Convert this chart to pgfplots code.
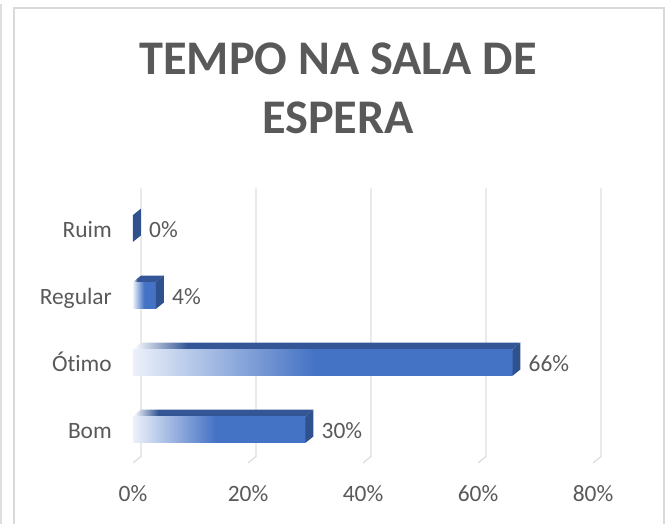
\documentclass[border=0pt]{standalone}
\usepackage{fontspec}
\setmainfont{Carlito}[Ligatures={NoCommon}]
\usepackage{pgfplots}
\pgfplotsset{compat=1.18}

\definecolor{txtgray}{RGB}{89,89,89}
\definecolor{gridgray}{RGB}{222,222,222}
\definecolor{framegray}{RGB}{217,217,217}
\definecolor{barfront}{RGB}{68,114,196}
\definecolor{bartop}{RGB}{52,86,150}
\definecolor{barside}{RGB}{47,82,143}
\definecolor{barpale}{RGB}{236,241,250}

% white -> blue over the first half of each bar, then solid
\pgfdeclarehorizontalshading{frontshade}{100bp}{color(0bp)=(barpale); color(25bp)=(barpale); color(49bp)=(barfront); color(100bp)=(barfront)}
\pgfdeclarehorizontalshading{topshade}{100bp}{color(0bp)=(white); color(25bp)=(white); color(32bp)=(bartop); color(100bp)=(bartop)}

\begin{document}
\begin{tikzpicture}
\begin{axis}[
  x=5.75bp, y=67bp,
  xmin=0, xmax=80, ymin=-0.5, ymax=3.5,
  clip=false,
  axis line style={draw=none},
  tick style={draw=none},
  xtick={0,20,40,60,80},
  xticklabels={0\%,20\%,40\%,60\%,80\%},
  ytick={0,1,2,3},
  yticklabels={Bom,Ót\kern0ptimo,Regular,Ruim},
  ticklabel style={font=\fontsize{23.5}{28}\selectfont, text=txtgray, inner sep=0pt},
  xticklabel style={anchor=base, yshift=-39bp},
  yticklabel style={anchor=base east, xshift=-21bp, yshift=-9.5bp},
]

% gridlines on the back wall, with the floor edge
\addplot[gridgray, line width=1.3bp] coordinates {(0,-0.5) (1.39,-0.403) (1.39,3.597)};
\addplot[gridgray, line width=1.3bp] coordinates {(20,-0.5) (21.39,-0.403) (21.39,3.597)};
\addplot[gridgray, line width=1.3bp] coordinates {(40,-0.5) (41.39,-0.403) (41.39,3.597)};
\addplot[gridgray, line width=1.3bp] coordinates {(60,-0.5) (61.39,-0.403) (61.39,3.597)};
\addplot[gridgray, line width=1.3bp] coordinates {(80,-0.5) (81.39,-0.403) (81.39,3.597)};

% Bom 30%
\addplot[shade, shading=topshade, draw=none] coordinates {(0,0.2) (30,0.2) (31.39,0.297) (1.39,0.297)};
\addplot[shade, shading=frontshade, draw=none] coordinates {(0,-0.2) (30,-0.2) (30,0.2) (0,0.2)};
\addplot[fill=barside, draw=none] coordinates {(30,-0.2) (31.39,-0.103) (31.39,0.297) (30,0.2)};

% Otimo 66%
\addplot[shade, shading=topshade, draw=none] coordinates {(0,1.2) (66,1.2) (67.39,1.297) (1.39,1.297)};
\addplot[shade, shading=frontshade, draw=none] coordinates {(0,0.8) (66,0.8) (66,1.2) (0,1.2)};
\addplot[fill=barside, draw=none] coordinates {(66,0.8) (67.39,0.897) (67.39,1.297) (66,1.2)};

% Regular 4%
\addplot[shade, shading=topshade, draw=none] coordinates {(0,2.2) (4,2.2) (5.39,2.297) (1.39,2.297)};
\addplot[shade, shading=frontshade, draw=none] coordinates {(0,1.8) (4,1.8) (4,2.2) (0,2.2)};
\addplot[fill=barside, draw=none] coordinates {(4,1.8) (5.39,1.897) (5.39,2.297) (4,2.2)};

% Ruim 0%: only the end face shows
\addplot[fill=barside, draw=none] coordinates {(0,2.8) (1.39,2.897) (1.39,3.297) (0,3.2)};

% value labels
\addplot[draw=none, mark=none, point meta=explicit symbolic, nodes near coords,
  nodes near coords style={anchor=base west, inner sep=0pt, xshift=16bp, yshift=-9bp,
    font=\fontsize{23.5}{28}\selectfont, text=txtgray}]
  coordinates {(30,0)[30\%] (66,1)[66\%] (4,2)[4\%] (0,3)[0\%]};

% title
\node[anchor=base, font=\bfseries\fontsize{48.5}{58}\selectfont, text=txtgray] at (axis cs:35.65,5.291) {TEMPO NA SALA DE};
\node[anchor=base, font=\bfseries\fontsize{48.5}{58}\selectfont, text=txtgray] at (axis cs:35.65,4.410) {ESPERA};

% chart frame
\draw[framegray, line width=2bp] (axis cs:-20.78,-1.6) -- (axis cs:-20.78,6.291) -- (axis cs:92.35,6.291) -- (axis cs:92.35,-1.6);
\draw[gridgray, line width=1.5bp] (axis cs:-22.96,6.35) -- (axis cs:-22.96,-1.6);

\coordinate (bbsw) at (axis cs:-23.13,-1.410);
\coordinate (bbne) at (axis cs:92.87,6.410);
\end{axis}
\pgfresetboundingbox
\path[use as bounding box] (bbsw) rectangle (bbne);
\end{tikzpicture}
\end{document}
